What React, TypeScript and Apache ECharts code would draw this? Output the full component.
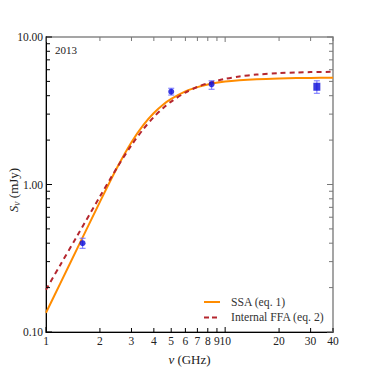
import React, { useEffect, useRef } from "react";
import * as echarts from "echarts";

const curveFreqs = [1, 1.2, 1.5, 2, 2.5, 3, 3.5, 4, 4.5, 5, 6, 7, 8, 10, 12, 15, 20, 25, 30, 40];
const ssaFlux = [0.135, 0.213, 0.372, 0.763, 1.309, 1.936, 2.537, 3.054, 3.474, 3.8, 4.278, 4.574, 4.764, 4.984, 5.097, 5.18, 5.24, 5.267, 5.279, 5.29];
const ffaFlux = [0.1935, 0.284, 0.453, 0.829, 1.31, 1.848, 2.382, 2.87, 3.294, 3.65, 4.203, 4.586, 4.859, 5.2, 5.396, 5.56, 5.69, 5.75, 5.78, 5.81];

const obsFreq = [1.6, 5.0, 8.4, 32.5];
const obsFlux = [0.4, 4.26, 4.78, 4.6];
const obsLow = [0.369, 4.04, 4.42, 4.15];
const obsHigh = [0.432, 4.49, 5.05, 5.05];

const xTickLabels = [1, 2, 3, 4, 5, 6, 7, 8, 9, 10, 20, 30, 40];
const yMajor = [0.1, 1, 10];
const yMinor = [0.2, 0.3, 0.4, 0.5, 0.6, 0.7, 0.8, 0.9, 2, 3, 4, 5, 6, 7, 8, 9];

const FONT = "'Liberation Serif', 'DejaVu Serif', serif";

export default function App() {
  const ref = useRef<HTMLDivElement>(null);
  useEffect(() => {
    document.body.style.margin = "0";
    const chart = echarts.init(ref.current!, null, { renderer: "svg" });
    const option: any = {
      animation: false,
      backgroundColor: "#fff",
      grid: {
        left: 46, right: 38, top: 37, bottom: 39,
        containLabel: false, outerBoundsMode: "none",
        show: true, borderColor: "#888", borderWidth: 1.5, backgroundColor: "transparent",
      },
      xAxis: {
        type: "log", logBase: 10, min: 1, max: 40,
        axisLine: { show: true, lineStyle: { color: "#000", width: 1 } },
        axisTick: { show: false }, axisLabel: { show: false }, splitLine: { show: false },
        minorTick: { show: false },
        name: "{i|ν} (GHz)", nameLocation: "middle", nameGap: 21,
        nameTextStyle: {
          fontFamily: FONT, fontSize: 13, color: "#222",
          rich: { i: { fontFamily: FONT, fontStyle: "italic", fontSize: 13, color: "#222" } },
        },
      },
      yAxis: {
        type: "log", logBase: 10, min: 0.1, max: 10,
        axisLine: { show: true, lineStyle: { color: "#000", width: 1 } },
        axisTick: { show: false }, splitLine: { show: false },
        axisLabel: {
          show: true, margin: 3, fontFamily: FONT, fontSize: 11.5, color: "#222",
          formatter: (v: number) => Number(v).toFixed(2),
        },
      },
      series: [
        {
          name: "SSA (eq. 1)", type: "line", smooth: 0.3, symbol: "none",
          data: curveFreqs.map((f, i) => [f, ssaFlux[i]]),
          lineStyle: { color: "#ff8c00", width: 2 }, z: 3,
        },
        {
          name: "Internal FFA (eq. 2)", type: "line", smooth: 0.3, symbol: "none",
          data: curveFreqs.map((f, i) => [f, ffaFlux[i]]),
          lineStyle: { color: "#b5262e", width: 2, type: [5, 4] }, z: 4,
        },
        {
          type: "custom", z: 5,
          data: obsFreq.map((f, i) => [f, obsLow[i], obsHigh[i]]),
          encode: { x: 0, y: [1, 2] },
          renderItem: (params: any, api: any) => {
            const x = api.value(0);
            const p1 = api.coord([x, api.value(1)]);
            const p2 = api.coord([x, api.value(2)]);
            const st = { stroke: "#6a6aff", lineWidth: 1.2, opacity: 0.8 };
            return {
              type: "group",
              children: [
                { type: "line", shape: { x1: p1[0], y1: p1[1], x2: p2[0], y2: p2[1] }, style: st },
                { type: "line", shape: { x1: p1[0] - 3, y1: p1[1], x2: p1[0] + 3, y2: p1[1] }, style: st },
                { type: "line", shape: { x1: p2[0] - 3, y1: p2[1], x2: p2[0] + 3, y2: p2[1] }, style: st },
              ],
            };
          },
        },
        {
          type: "scatter", z: 6,
          data: obsFreq.map((f, i) =>
            i === obsFreq.length - 1
              ? { value: [f, obsFlux[i]], symbol: "rect", symbolSize: [7, 8] }
              : { value: [f, obsFlux[i]], symbol: "circle", symbolSize: 6 }
          ),
          itemStyle: { color: "#0a0ad8" },
        },
      ],
    };
    chart.setOption(option);

    const px = (v: number) => chart.convertToPixel({ xAxisIndex: 0 }, v) as number;
    const py = (v: number) => chart.convertToPixel({ yAxisIndex: 0 }, v) as number;
    const X0 = px(1), X1 = px(40), Y0 = py(10), Y1 = py(0.1);
    const g: any[] = [];
    const line = (x1: number, y1: number, x2: number, y2: number, c: string) =>
      g.push({ type: "line", shape: { x1, y1, x2, y2 }, style: { stroke: c, lineWidth: 1 }, z: 10 });

    xTickLabels.forEach((v) => {
      const x = px(v);
      const len = v === 1 || v === 10 ? 5 : 4;
      line(x, Y1, x, Y1 - len, "#000");
      line(x, Y0, x, Y0 + len, "#777");
      g.push({
        type: "text", x, y: Y1 + 3, z: 10,
        style: { text: String(v), textAlign: "center", textVerticalAlign: "top", fontFamily: FONT, fontSize: 11.5, fill: "#222" },
      });
    });
    yMajor.forEach((v) => {
      const y = py(v);
      line(X0, y, X0 + 6, y, "#000");
      line(X1, y, X1 - 6, y, "#777");
    });
    yMinor.forEach((v) => {
      const y = py(v);
      line(X0, y, X0 + 4, y, "#000");
      line(X1, y, X1 - 4, y, "#777");
    });
    // y axis title
    g.push({
      type: "text", x: 13, y: 190, rotation: Math.PI / 2, z: 10,
      style: {
        text: "{i|S}{s|ν} (mJy)", textAlign: "center", textVerticalAlign: "middle",
        fontFamily: FONT, fontSize: 13, fill: "#222",
        rich: {
          i: { fontFamily: FONT, fontStyle: "italic", fontSize: 13, fill: "#222" },
          s: { fontFamily: FONT, fontStyle: "italic", fontSize: 9.5, fill: "#222", padding: [7, 0, 0, 0] },
        },
      },
    });
    // legend
    const legY1 = 302, legY2 = 317.5;
    g.push({ type: "line", shape: { x1: 204, y1: legY1, x2: 220, y2: legY1 }, style: { stroke: "#ff8c00", lineWidth: 2 }, z: 10 });
    g.push({ type: "line", shape: { x1: 204, y1: legY2, x2: 220, y2: legY2 }, style: { stroke: "#b5262e", lineWidth: 2, lineDash: [5, 3] }, z: 10 });
    g.push({ type: "text", x: 231, y: legY1, z: 10, style: { text: "SSA (eq. 1)", textVerticalAlign: "middle", fontFamily: FONT, fontSize: 11.7, fill: "#333" } });
    g.push({ type: "text", x: 231, y: legY2, z: 10, style: { text: "Internal FFA (eq. 2)", textVerticalAlign: "middle", fontFamily: FONT, fontSize: 11.7, fill: "#333" } });
    g.push({ type: "text", x: 55, y: 50, z: 10, style: { text: "2013", textVerticalAlign: "middle", fontFamily: FONT, fontSize: 11, fill: "#222" } });

    chart.setOption({ graphic: g });
    return () => chart.dispose();
  }, []);
  return <div ref={ref} style={{ position: "fixed", left: 0, top: 0, width: 371, height: 371 }} />;
}
